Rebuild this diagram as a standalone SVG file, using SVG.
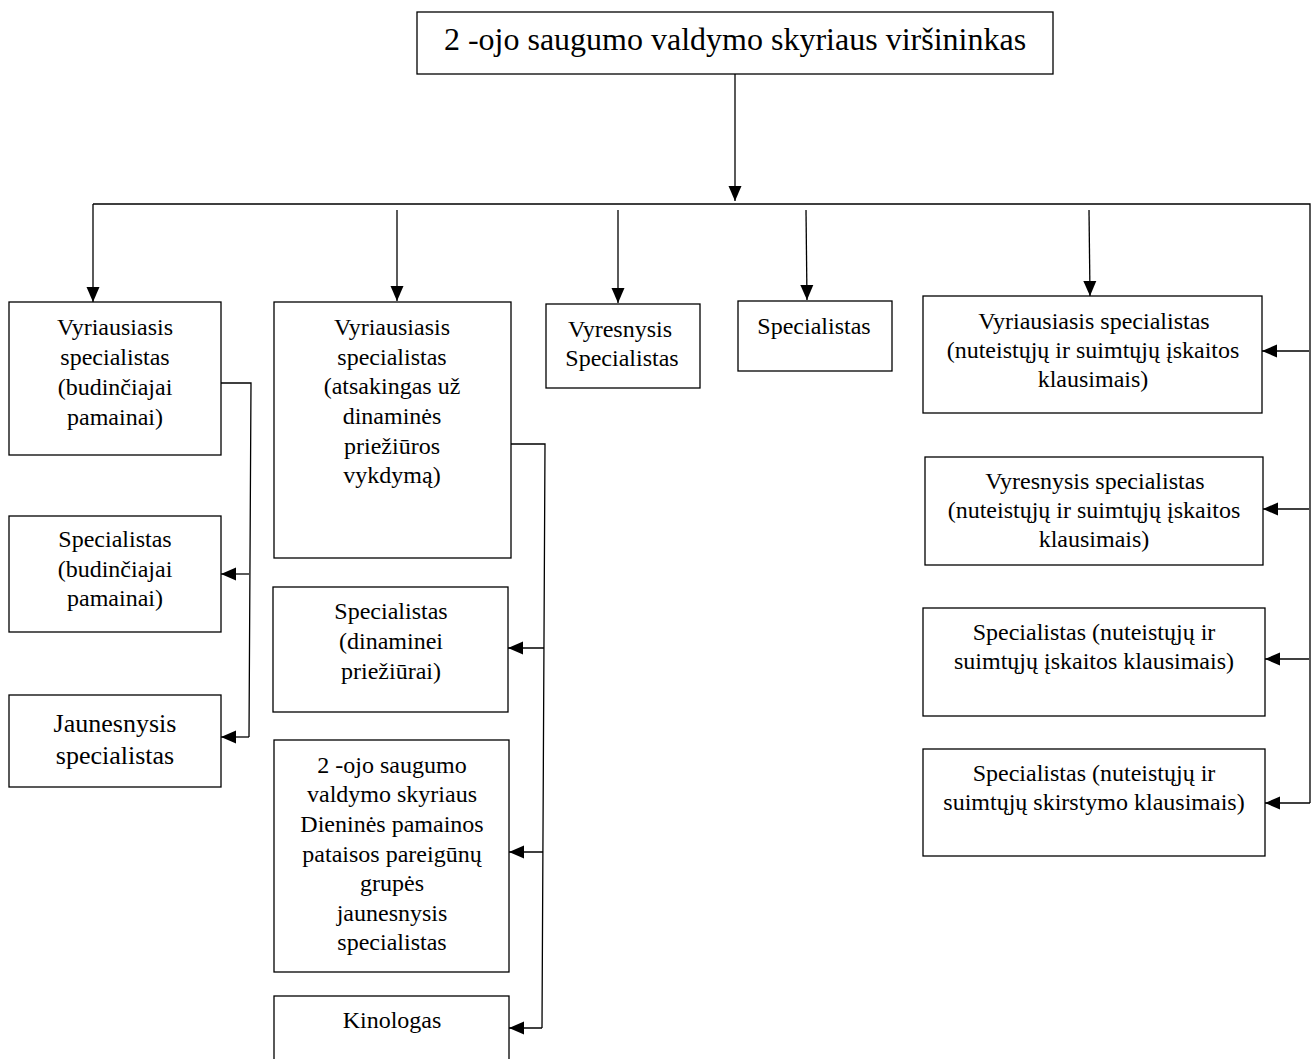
<svg xmlns="http://www.w3.org/2000/svg" width="1314" height="1059" viewBox="0 0 1314 1059">
<defs>
<marker id="arr" markerUnits="userSpaceOnUse" markerWidth="16" markerHeight="14" refX="15" refY="7" orient="auto">
<path d="M0,0.5 L15,7 L0,13.5 z" fill="#000"/>
</marker>
<style>
.box{fill:#fff;stroke:#000;stroke-width:1.3}
.t{font-family:"Liberation Serif","Times New Roman",serif;font-size:24px;fill:#000;text-anchor:middle}
.big{font-size:32px}
.j{font-size:26px}
.c{fill:none;stroke:#000;stroke-width:1.3}
.a{fill:none;stroke:#000;stroke-width:1.3;marker-end:url(#arr)}
</style>
</defs>
<rect width="1314" height="1059" fill="#fff"/>

<g id="connectors">
<line class="a" x1="735" y1="74" x2="735" y2="201"/>
<polyline class="c" points="93,204 1310,204 1310,803"/>
<line class="a" x1="93" y1="204" x2="93" y2="302"/>
<line class="a" x1="397" y1="210" x2="397" y2="301"/>
<line class="a" x1="618" y1="210" x2="618" y2="303"/>
<line class="a" x1="806" y1="210" x2="807" y2="300"/>
<line class="a" x1="1089" y1="210" x2="1090" y2="296"/>
<!-- left group -->
<polyline class="c" points="221,383 251,383 249,737"/>
<line class="a" x1="249" y1="574" x2="221" y2="574"/>
<line class="a" x1="249" y1="737" x2="221" y2="737"/>
<!-- middle group -->
<polyline class="c" points="511,444 545,444 542,1028"/>
<line class="a" x1="544" y1="648" x2="508" y2="648"/>
<line class="a" x1="543" y1="852" x2="509" y2="852"/>
<line class="a" x1="542" y1="1028" x2="509" y2="1028"/>
<!-- right group -->
<line class="a" x1="1309" y1="351" x2="1262" y2="351"/>
<line class="a" x1="1309" y1="509" x2="1263" y2="509"/>
<line class="a" x1="1309" y1="659" x2="1265" y2="659"/>
<line class="a" x1="1310" y1="803" x2="1265" y2="803"/>
</g>

<g id="n0">
<rect class="box" x="417" y="12" width="636" height="62"/>
<text class="t big" x="735" y="50">2 -ojo saugumo valdymo skyriaus viršininkas</text>
</g>

<g id="n1">
<rect class="box" x="9" y="302" width="212" height="153"/>
<text class="t" x="115" y="335">Vyriausiasis</text>
<text class="t" x="115" y="365">specialistas</text>
<text class="t" x="115" y="395">(budinčiajai</text>
<text class="t" x="115" y="425">pamainai)</text>
</g>

<g id="n2">
<rect class="box" x="274" y="302" width="237" height="256"/>
<text class="t" x="392" y="335">Vyriausiasis</text>
<text class="t" x="392" y="365">specialistas</text>
<text class="t" x="392" y="394">(atsakingas už</text>
<text class="t" x="392" y="424">dinaminės</text>
<text class="t" x="392" y="454">priežiūros</text>
<text class="t" x="392" y="483">vykdymą)</text>
</g>

<g id="n3">
<rect class="box" x="546" y="304" width="154" height="84"/>
<text class="t" x="620" y="337">Vyresnysis</text>
<text class="t" x="622" y="366">Specialistas</text>
</g>

<g id="n4">
<rect class="box" x="738" y="301" width="154" height="70"/>
<text class="t" x="814" y="334">Specialistas</text>
</g>

<g id="n5">
<rect class="box" x="923" y="296" width="339" height="117"/>
<text class="t" x="1094" y="329">Vyriausiasis specialistas</text>
<text class="t" x="1093" y="358">(nuteistųjų ir suimtųjų įskaitos</text>
<text class="t" x="1093" y="387">klausimais)</text>
</g>

<g id="n6">
<rect class="box" x="925" y="457" width="338" height="108"/>
<text class="t" x="1095" y="489">Vyresnysis specialistas</text>
<text class="t" x="1094" y="518">(nuteistųjų ir suimtųjų įskaitos</text>
<text class="t" x="1094" y="547">klausimais)</text>
</g>

<g id="n7">
<rect class="box" x="923" y="608" width="342" height="108"/>
<text class="t" x="1094" y="640">Specialistas (nuteistųjų ir</text>
<text class="t" x="1094" y="669">suimtųjų įskaitos klausimais)</text>
</g>

<g id="n8">
<rect class="box" x="923" y="749" width="342" height="107"/>
<text class="t" x="1094" y="781">Specialistas (nuteistųjų ir</text>
<text class="t" x="1094" y="810">suimtųjų skirstymo klausimais)</text>
</g>

<g id="n9">
<rect class="box" x="9" y="516" width="212" height="116"/>
<text class="t" x="115" y="547">Specialistas</text>
<text class="t" x="115" y="577">(budinčiajai</text>
<text class="t" x="115" y="606">pamainai)</text>
</g>

<g id="n10">
<rect class="box" x="9" y="695" width="212" height="92"/>
<text class="t j" x="115" y="732">Jaunesnysis</text>
<text class="t j" x="115" y="764">specialistas</text>
</g>

<g id="n11">
<rect class="box" x="273" y="587" width="235" height="125"/>
<text class="t" x="391" y="619">Specialistas</text>
<text class="t" x="391" y="649">(dinaminei</text>
<text class="t" x="391" y="679">priežiūrai)</text>
</g>

<g id="n12">
<rect class="box" x="274" y="740" width="235" height="232"/>
<text class="t" x="392" y="773">2 -ojo saugumo</text>
<text class="t" x="392" y="802">valdymo skyriaus</text>
<text class="t" x="392" y="832">Dieninės pamainos</text>
<text class="t" x="392" y="862">pataisos pareigūnų</text>
<text class="t" x="392" y="891">grupės</text>
<text class="t" x="392" y="921">jaunesnysis</text>
<text class="t" x="392" y="950">specialistas</text>
</g>

<g id="n13">
<rect class="box" x="274" y="996" width="235" height="80"/>
<text class="t" x="392" y="1028">Kinologas</text>
</g>
</svg>
